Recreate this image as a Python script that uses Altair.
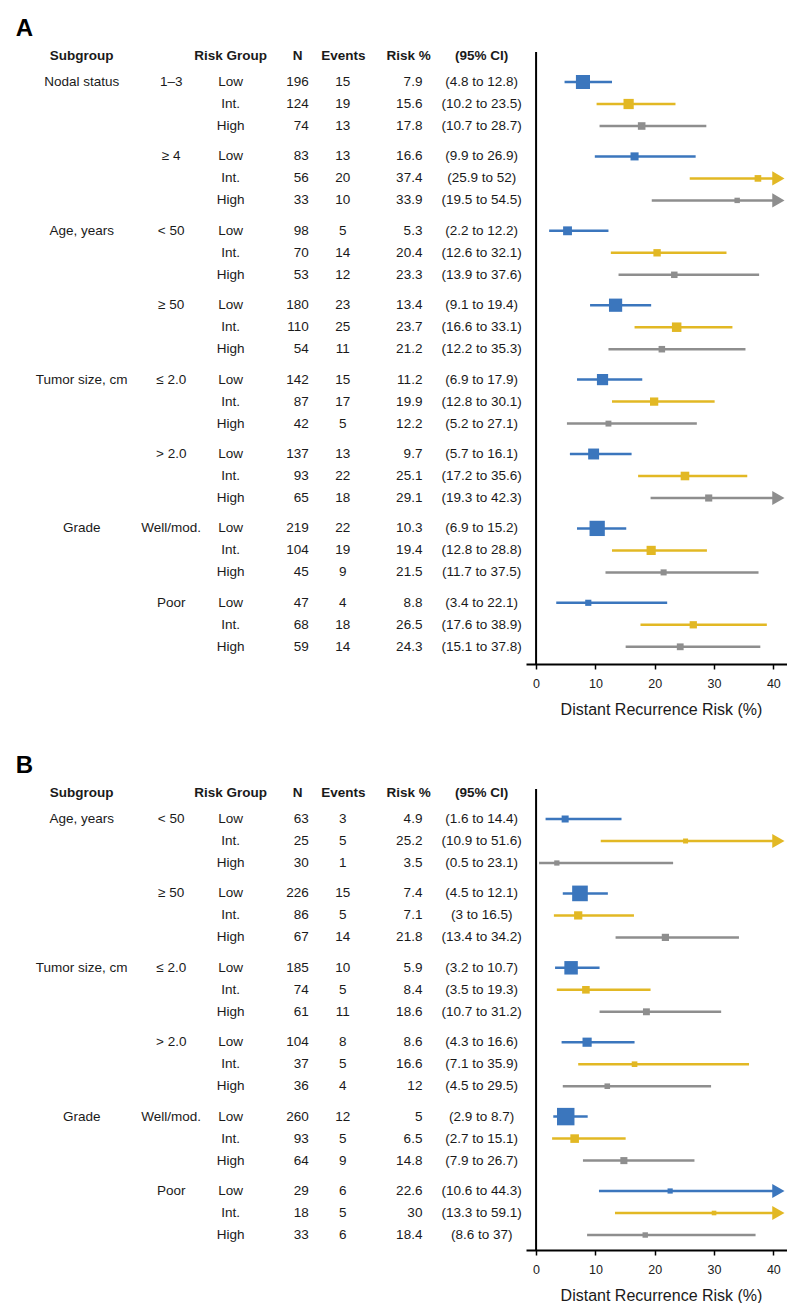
import altair as alt
import pandas as pd

# ---------------- data ----------------
RISK_GROUPS = ["Low", "Int.", "High"]
COLORS = ["#3b76bd", "#e2b824", "#8e8e8e"]

A_SUBGROUPS = ["Nodal status", "Age, years", "Tumor size, cm", "Grade"]
A_LEVELS = ["1–3", "≥ 4", "< 50", "≥ 50", "≤ 2.0", "> 2.0", "Well/mod.", "Poor"]
A_N = [196, 124, 74, 83, 56, 33, 98, 70, 53, 180, 110, 54,
       142, 87, 42, 137, 93, 65, 219, 104, 45, 47, 68, 59]
A_EVENTS = [15, 19, 13, 13, 20, 10, 5, 14, 12, 23, 25, 11,
            15, 17, 5, 13, 22, 18, 22, 19, 9, 4, 18, 14]
A_RISK = [7.9, 15.6, 17.8, 16.6, 37.4, 33.9, 5.3, 20.4, 23.3, 13.4, 23.7, 21.2,
          11.2, 19.9, 12.2, 9.7, 25.1, 29.1, 10.3, 19.4, 21.5, 8.8, 26.5, 24.3]
A_LO = [4.8, 10.2, 10.7, 9.9, 25.9, 19.5, 2.2, 12.6, 13.9, 9.1, 16.6, 12.2,
        6.9, 12.8, 5.2, 5.7, 17.2, 19.3, 6.9, 12.8, 11.7, 3.4, 17.6, 15.1]
A_HI = [12.8, 23.5, 28.7, 26.9, 52, 54.5, 12.2, 32.1, 37.6, 19.4, 33.1, 35.3,
        17.9, 30.1, 27.1, 16.1, 35.6, 42.3, 15.2, 28.8, 37.5, 22.1, 38.9, 37.8]

B_SUBGROUPS = ["Age, years", "Tumor size, cm", "Grade"]
B_LEVELS = ["< 50", "≥ 50", "≤ 2.0", "> 2.0", "Well/mod.", "Poor"]
B_N = [63, 25, 30, 226, 86, 67, 185, 74, 61, 104, 37, 36, 260, 93, 64, 29, 18, 33]
B_EVENTS = [3, 5, 1, 15, 5, 14, 10, 5, 11, 8, 5, 4, 12, 5, 9, 6, 5, 6]
B_RISK = [4.9, 25.2, 3.5, 7.4, 7.1, 21.8, 5.9, 8.4, 18.6, 8.6, 16.6, 12,
          5, 6.5, 14.8, 22.6, 30, 18.4]
B_LO = [1.6, 10.9, 0.5, 4.5, 3, 13.4, 3.2, 3.5, 10.7, 4.3, 7.1, 4.5,
        2.9, 2.7, 7.9, 10.6, 13.3, 8.6]
B_HI = [14.4, 51.6, 23.1, 12.1, 16.5, 34.2, 10.7, 19.3, 31.2, 16.6, 35.9, 29.5,
        8.7, 15.1, 26.7, 44.3, 59.1, 37]

AXIS_TITLE = "Distant Recurrence Risk (%)"
AXIS_TICKS = [0, 10, 20, 30, 40]

# ---------------- layout ----------------
W = 261
X_DOMAIN = [-1.7, 42.3]
ROW_PX = 22
GAP = 8.4 / ROW_PX
FIRST_PX = 30
TXT = "#1a1a1a"
FS = 13.5


def fmt(v):
    return f"{v:g}"


def build(subgroups, levels, n, ev, risk, lo, hi):
    rows = []
    for k in range(len(n)):
        g = k // 3
        rows.append(dict(
            pos=k + GAP * g,
            sub=subgroups[k // 6] if k % 6 == 0 else "",
            lev=levels[g] if k % 3 == 0 else "",
            grp=RISK_GROUPS[k % 3],
            n=n[k], ev=ev[k], risk=risk[k], risk_s=fmt(risk[k]),
            lo=lo[k], hi=hi[k],
            ci=f"({fmt(lo[k])} to {fmt(hi[k])})",
        ))
    return pd.DataFrame(rows)


def panel(letter, df, height):
    top = -FIRST_PX / ROW_PX
    bottom = (height - FIRST_PX) / ROW_PX
    yenc = alt.Y("pos:Q", scale=alt.Scale(domain=[top, bottom], reverse=True,
                                          nice=False, zero=False), axis=None)
    xscale = alt.Scale(domain=X_DOMAIN, nice=False, zero=False)
    xaxis = alt.Axis(values=AXIS_TICKS, title=AXIS_TITLE, grid=False,
                     domainColor="black", domainWidth=2, tickColor="black",
                     tickWidth=1.5, tickSize=5, labelFontSize=12.5,
                     labelColor=TXT, labelBaseline="alphabetic", labelPadding=18.5,
                     labelFlush=False, titleFont="Liberation Sans",
                     titleFontSize=16, titleFontWeight="normal", titleColor=TXT,
                     titleBaseline="alphabetic", titleX=135, titleY=50,
                     titleAlign="center")
    color = alt.Color("grp:N", scale=alt.Scale(domain=RISK_GROUPS, range=COLORS),
                      legend=None)
    base = alt.Chart(df)

    ci = base.transform_calculate(hi_c="min(datum.hi, 40)").mark_rule(
        strokeWidth=2.5).encode(
        x=alt.X("lo:Q", scale=xscale, axis=xaxis),
        x2="hi_c:Q", y=yenc, color=color)

    sq = base.transform_calculate(msize="pow(3.67 + 0.053 * datum.n, 2)").mark_square(
        opacity=1).encode(
        x=alt.X("risk:Q", scale=xscale, axis=xaxis), y=yenc, color=color,
        size=alt.Size("msize:Q", scale=None))

    arrows = base.transform_filter("datum.hi > 40").mark_point(
        shape="triangle-right", filled=True, opacity=1, size=200).encode(
        x=alt.value(W - 8.6), y=yenc, color=color)

    vline = alt.Chart(pd.DataFrame({"v": [0]})).mark_rule(
        color="black", strokeWidth=2).encode(
        x=alt.X("v:Q", scale=xscale, axis=xaxis), y=alt.value(0), y2=alt.value(height))

    def col(field, x, align):
        return base.mark_text(fontSize=FS, color=TXT, align=align,
                              baseline="middle").encode(
            x=alt.value(x), y=yenc, text=f"{field}:N")

    cols = [
        col("sub", -444.3, "center"),
        col("lev", -354.8, "center"),
        col("grp", -295.3, "center"),
        col("n", -217.3, "right"),
        col("ev", -183.3, "center"),
        col("risk_s", -103.6, "right"),
        col("ci", -44.3, "center"),
    ]

    headers = []
    for label, x in [("Subgroup", -444.3), ("Risk Group", -295.3), ("N", -228.3),
                     ("Events", -182.6), ("Risk %", -117.3), ("(95% CI)", -44.3)]:
        headers.append(alt.Chart(pd.DataFrame({"t": [label]})).mark_text(
            fontSize=FS, fontWeight="bold", color=TXT, align="center",
            baseline="middle").encode(x=alt.value(x), y=alt.value(3.5), text="t:N"))

    title = alt.Chart(pd.DataFrame({"t": [letter]})).mark_text(
        fontSize=24, fontWeight="bold", color="black", align="left",
        baseline="alphabetic").encode(x=alt.value(-510.3), y=alt.value(-16),
                                      text="t:N")

    return alt.layer(ci, sq, arrows, vline, *cols, *headers, title).properties(
        width=W, height=height)


dfA = build(A_SUBGROUPS, A_LEVELS, A_N, A_EVENTS, A_RISK, A_LO, A_HI)
dfB = build(B_SUBGROUPS, B_LEVELS, B_N, B_EVENTS, B_RISK, B_LO, B_HI)

chart = alt.vconcat(panel("A", dfA, 612), panel("B", dfB, 461), spacing=37).properties(
    padding={"left": 7, "top": 9, "right": 0, "bottom": 0}
).configure(font="Liberation Sans").configure_view(stroke=None)

chart.save("out.html", embed_options={"renderer": "svg", "actions": False})
